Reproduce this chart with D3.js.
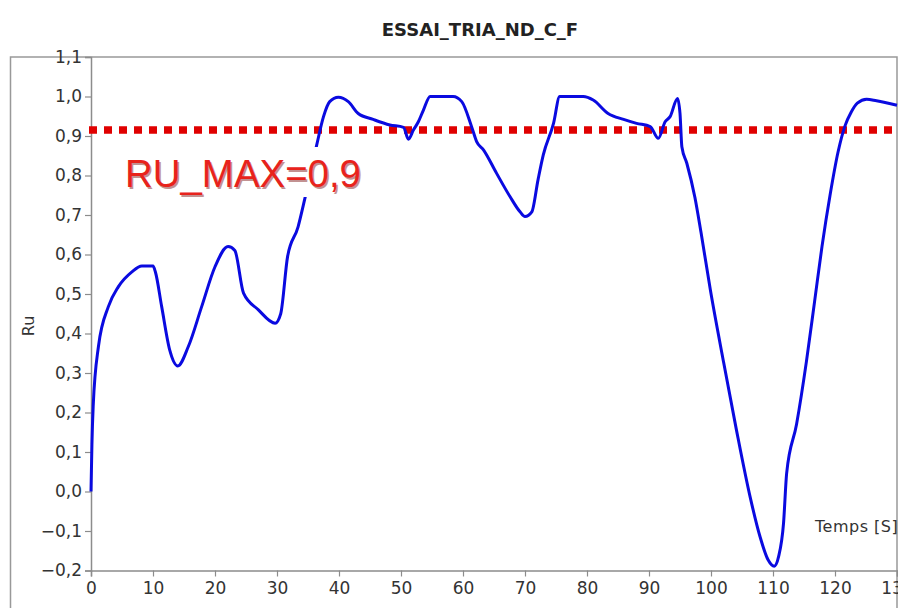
<!DOCTYPE html>
<html>
<head>
<meta charset="utf-8">
<script src="https://cdn.jsdelivr.net/npm/d3@7"></script>
<style>
  html, body { margin: 0; padding: 0; background: #fff; overflow: hidden; }
  svg { display: block; }
</style>
</head>
<body>
<svg id="chart" width="898" height="608"></svg>
<script>
// ---- Data ----
const chartTitle = "ESSAI_TRIA_ND_C_F";
const yLabel = "Ru";
const xLabel = "Temps [S]";
const thresholdLabel = "RU_MAX=0,9";
const thresholdValue = 0.915;

const time = [0, 0.15, 0.35, 1.2, 2.8, 4.4, 6.6, 8.2, 10.0, 10.4, 11.4, 12.7, 14.0, 15.7, 17.85, 20.0, 22.1, 23.2,
  24.6, 27.0, 29.7, 30.6, 31.7, 33.4, 34.5, 36.4, 37.5, 38.5, 39.9, 41.5, 43.1, 45.5, 48.2, 50.4, 51.2, 52.0,
  52.8, 53.6, 54.7, 58.4, 59.8, 61.4, 62.2, 63.3, 65.4, 67.6, 69.2, 70.0, 71.1, 72.1, 72.95, 74.6, 75.6, 79.4,
  81.0, 83.4, 85.9, 88.0, 90.2, 91.5, 92.6, 93.4, 94.6, 95.0, 95.3, 96.1, 97.4, 98.4, 99.9, 102.0, 104.1, 106.3,
  107.9, 109.2, 110.2, 110.9, 111.7, 112.2, 113.8, 115.4, 116.7, 117.9, 119.2, 120.5, 121.6, 122.6, 123.6, 125.1, 126.7, 130];
const ru = [0, 0.12, 0.215, 0.367, 0.468, 0.518, 0.556, 0.571, 0.571, 0.555, 0.468, 0.358, 0.318, 0.367, 0.468, 0.569, 0.62, 0.61,
  0.502, 0.46, 0.426, 0.45, 0.594, 0.67, 0.742, 0.877, 0.949, 0.987, 0.998, 0.987, 0.957, 0.942, 0.928, 0.922, 0.892, 0.915,
  0.936, 0.965, 1.0, 1.0, 0.987, 0.923, 0.886, 0.865, 0.806, 0.746, 0.708, 0.696, 0.708, 0.789, 0.852, 0.932, 1.0, 1.0,
  0.991, 0.957, 0.942, 0.932, 0.924, 0.894, 0.936, 0.949, 0.995, 0.957, 0.873, 0.831, 0.745, 0.655, 0.51, 0.33, 0.156, -0.013,
  -0.114, -0.173, -0.189, -0.165, -0.08, 0.046, 0.17, 0.33, 0.48, 0.62, 0.75, 0.86, 0.925, 0.96, 0.983, 0.993, 0.989, 0.978];

const xTicks = [0, 10, 20, 30, 40, 50, 60, 70, 80, 90, 100, 110, 120, 130];
const yTicks = [-0.2, -0.1, 0, 0.1, 0.2, 0.3, 0.4, 0.5, 0.6, 0.7, 0.8, 0.9, 1.0, 1.1];

// ---- Layout ----
const svg = d3.select("#chart");
const plot = { left: 91, right: 897, top: 57, bottom: 570.5 };
const x = d3.scaleLinear().domain([0, 130]).range([plot.left, plot.right]);
const y = d3.scaleLinear().domain([-0.2, 1.1]).range([plot.bottom, plot.top]);
const fmt = v => d3.format(".1f")(v).replace(".", ",").replace("-", "\u2212");
const font = "DejaVu Sans, sans-serif";
const axisColor = "#8c8c8c";
const textColor = "#333";

// outer frame
svg.append("rect")
  .attr("x", 10.5).attr("y", 57).attr("width", 886.5).attr("height", 600)
  .attr("fill", "none").attr("stroke", "#999").attr("stroke-width", 1.5);

// title
svg.append("text")
  .attr("x", 480).attr("y", 36).attr("text-anchor", "middle")
  .attr("font-family", font).attr("font-weight", "bold").attr("font-size", 18)
  .attr("fill", "#222").text(chartTitle);

// axes
const yAxis = d3.axisLeft(y).tickValues(yTicks).tickFormat(fmt).tickSize(6).tickPadding(3);
const gy = svg.append("g").attr("transform", `translate(${plot.left},0)`).call(yAxis);
gy.select(".domain").attr("stroke", axisColor).attr("stroke-width", 1.5);
gy.selectAll(".tick line").attr("stroke", axisColor).attr("stroke-width", 1.2);
gy.selectAll(".tick text").attr("font-family", font).attr("font-size", 17).attr("fill", textColor);

const xAxis = d3.axisBottom(x).tickValues(xTicks).tickFormat(d3.format("d")).tickSize(6).tickPadding(5);
const gx = svg.append("g").attr("transform", `translate(0,${plot.bottom})`).call(xAxis);
gx.select(".domain").attr("stroke", axisColor).attr("stroke-width", 1.5);
gx.selectAll(".tick line").attr("stroke", axisColor).attr("stroke-width", 1.2);
gx.selectAll(".tick text").attr("font-family", font).attr("font-size", 17).attr("fill", textColor);

// y label
svg.append("text")
  .attr("transform", "translate(34,326) rotate(-90)")
  .attr("text-anchor", "middle")
  .attr("font-family", font).attr("font-size", 16).attr("fill", textColor)
  .text(yLabel);

// x label
svg.append("text")
  .attr("x", 815).attr("y", 532)
  .attr("font-family", font).attr("font-size", 16).attr("fill", textColor)
  .attr("letter-spacing", 0.5)
  .text(xLabel);

// threshold dotted line
svg.append("line")
  .attr("x1", plot.left - 2).attr("x2", plot.right)
  .attr("y1", y(thresholdValue)).attr("y2", y(thresholdValue))
  .attr("stroke", "#e00000").attr("stroke-width", 7.5)
  .attr("stroke-dasharray", "8,7");

// data line
const line = d3.line()
  .x((d, i) => x(time[i]))
  .y(d => y(d))
  .curve(d3.curveMonotoneX);
svg.append("path")
  .datum(ru)
  .attr("d", line)
  .attr("fill", "none")
  .attr("stroke", "#0a0ae0")
  .attr("stroke-width", 3)
  .attr("stroke-linejoin", "round");

// annotation box and text
svg.append("rect")
  .attr("x", 118).attr("y", 147).attr("width", 248).attr("height", 50)
  .attr("fill", "#fff");
svg.append("text")
  .attr("x", 126.5).attr("y", 188.5)
  .attr("font-family", "Liberation Sans, Arial, sans-serif").attr("font-size", 39)
  .attr("textLength", 236).attr("lengthAdjust", "spacingAndGlyphs")
  .attr("fill", "#7a1010").attr("opacity", 0.45)
  .text(thresholdLabel);
svg.append("text")
  .attr("x", 125).attr("y", 187)
  .attr("font-family", "Liberation Sans, Arial, sans-serif").attr("font-size", 39)
  .attr("textLength", 236).attr("lengthAdjust", "spacingAndGlyphs")
  .attr("fill", "#e8231c")
  .text(thresholdLabel);
</script>
</body>
</html>
